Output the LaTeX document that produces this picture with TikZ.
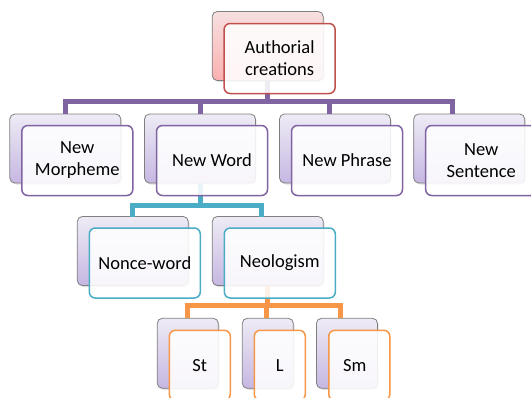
\documentclass[tikz,border=0pt]{standalone}
\usepackage{fontspec}
\setmainfont{Carlito}
\usetikzlibrary{shadows}
\definecolor{cpurple}{HTML}{8064A2}
\definecolor{cblue}{HTML}{4BACC6}
\definecolor{corange}{HTML}{F79646}
\definecolor{cred}{HTML}{C0504D}
\definecolor{lavtop}{HTML}{EEEBF5}
\definecolor{lavbot}{HTML}{C6B7E2}
\definecolor{pinktop}{HTML}{F7E0E0}
\definecolor{pinkbot}{HTML}{FAB0B0}
\definecolor{backline}{HTML}{7F7F7F}
\begin{document}
\begin{tikzpicture}[x=1pt,y=-1pt,
  backbase/.style={draw=backline, line width=0.8pt, rounded corners=5pt,
    minimum width=111pt, minimum height=69pt, inner sep=0pt, outer sep=0pt,
    drop shadow={shadow xshift=1.2pt, shadow yshift=-1.5pt, opacity=0.25}},
  lavback/.style={backbase, top color=lavtop, bottom color=lavbot},
  pinkback/.style={backbase, top color=pinktop, bottom color=pinkbot},
  front/.style={draw=#1, line width=1.5pt, rounded corners=6pt, fill=white,
    fill opacity=0.88, text opacity=1, minimum width=111pt, minimum height=70pt,
    inner sep=0pt, outer sep=0pt, align=center, text=black,
    font=\fontsize{18.5}{22}\selectfont},
  conn/.style={line width=5pt, draw=#1},
]
\useasboundingbox (0,0) rectangle (531,397);
\clip (0,0) rectangle (531,397);

% back boxes
\node[pinkback] (topB) at (267.7,46) {};
\node[lavback] (mB) at (65.3,148.5) {};
\node[lavback] (wB) at (200,148.5) {};
\node[lavback] (pB) at (335,148.5) {};
\node[lavback] (sB) at (469.2,148.5) {};
\node[lavback] (nB) at (132.8,251) {};
\node[lavback] (gB) at (267.8,251) {};
\node[lavback, minimum width=61pt, minimum height=70pt] (stB) at (187.8,353.3) {};
\node[lavback, minimum width=51pt, minimum height=70pt] (lB) at (267.8,353.3) {};
\node[lavback, minimum width=61pt, minimum height=70pt] (smB) at (347,353.3) {};

% connectors
\draw[conn=cpurple] (topB.south) -- ++(0,20.5) -| (mB.north);
\draw[conn=cpurple] (topB.south) -- ++(0,20.5) -| (wB.north);
\draw[conn=cpurple] (topB.south) -- ++(0,20.5) -| ([xshift=-6pt]pB.north);
\draw[conn=cpurple] (topB.south) -- ++(0,20.5) -| ([xshift=-16.5pt]sB.north);
\draw[conn=cblue] (wB.south) -- ++(0,22) -| (nB.north);
\draw[conn=cblue] (wB.south) -- ++(0,22) -| ([xshift=-6pt]gB.north);
\draw[conn=corange] (gB.south) -- ++(0,20) -| (stB.north);
\draw[conn=corange] (gB.south) -- ++(0,20) -| ([xshift=-1pt]lB.north);
\draw[conn=corange] (gB.south) -- ++(0,20) -| ([xshift=-7pt]smB.north);

% front boxes
\node[front=cred] (top) at (279.6,58.5) {Authorial\\creations};
\node[front=cpurple] (morph) at (77.3,160.5) {New\\Morpheme};
\node[front=cpurple] (word) at (212,160.5) {New Word};
\node[front=cpurple] (phrase) at (347,160.5) {New Phrase};
\node[front=cpurple] (sent) at (481.2,160.5) {New\\Sentence};
\node[front=cblue] (nonce) at (144.8,263) {Nonce-word};
\node[front=cblue] (neo) at (279.8,263) {Neologism};
\node[front=corange, minimum width=61pt] (st) at (199.8,365.3) {St};
\node[front=corange, minimum width=51pt] (l) at (279.8,365.3) {L};
\node[front=corange, minimum width=61pt] (sm) at (359.3,365.3) {\hspace*{-9pt}Sm};
\end{tikzpicture}
\end{document}
